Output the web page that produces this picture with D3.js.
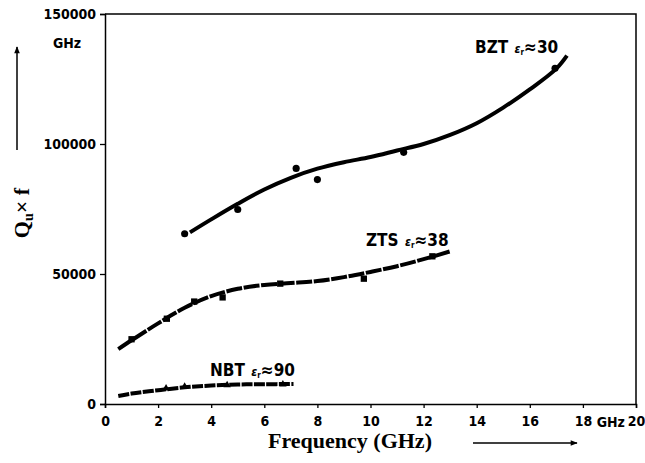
<!DOCTYPE html>
<html>
<head>
<meta charset="utf-8">
<script src="https://cdn.jsdelivr.net/npm/d3@7"></script>
<style>
  body { margin: 0; background: #fff; }
  svg { display: block; }
  .tick text, .lab { font-family: "DejaVu Sans Condensed", "DejaVu Sans", sans-serif; font-stretch: condensed; font-weight: bold; fill: #000; }
  .ttl { font-family: "Liberation Serif", "DejaVu Serif", serif; font-weight: bold; fill: #000; }
</style>
</head>
<body>
<svg id="chart" width="645" height="463"></svg>
<script>
// ticks
var xTicks = [0, 2, 4, 6, 8, 10, 12, 14, 16, 18, 20];
var yTicks = [0, 50000, 100000, 150000];

// BZT  er ~ 30 : fitted curve + measured points
var bztCurveF = [3.2, 4, 5, 6, 7, 8, 9, 10, 11, 12, 13, 14, 15, 16, 17, 17.4];
var bztCurveQ = [66000, 71000, 77000, 82500, 87000, 90500, 93000, 95000, 97500, 100000, 103500, 108000, 114000, 121000, 129000, 134000];
var bztPtsF = [3.0, 5.0, 7.2, 8.0, 11.25, 16.95];
var bztPtsQ = [65500, 74800, 90600, 86300, 96800, 129100];

// ZTS  er ~ 38
var ztsCurveF = [0.5, 1, 2, 3, 4, 5, 6, 7, 8, 9, 10, 11, 12, 13];
var ztsCurveQ = [21100, 24500, 31000, 37000, 41500, 44300, 45800, 46500, 47300, 48800, 50800, 53000, 55700, 58700];
var ztsPtsF = [1.0, 2.33, 3.36, 4.43, 6.6, 9.75, 12.33];
var ztsPtsQ = [24900, 32800, 39400, 41000, 46300, 48200, 56800];

// NBT  er ~ 90
var nbtCurveF = [0.5, 1, 2, 3, 4, 5, 6, 7.1];
var nbtCurveQ = [3100, 4000, 5300, 6400, 7100, 7500, 7600, 7700];
var nbtPtsF = [2.3, 3.0, 4.6, 6.7];
var nbtPtsQ = [6050, 6700, 7300, 7600];

var svg = d3.select("#chart");

var x = d3.scaleLinear().domain([0, 20]).range([105, 636]);
var y = d3.scaleLinear().domain([0, 150000]).range([404, 14]);

// frame (top and right)
svg.append("path")
  .attr("d", "M" + x(0) + "," + y(150000) + "H" + x(20) + "V" + y(0))
  .attr("fill", "none").attr("stroke", "#000").attr("stroke-width", 1.5);

var yAxis = svg.append("g")
  .attr("transform", "translate(" + x(0) + ",0)")
  .call(d3.axisLeft(y).tickValues(yTicks).tickSize(5).tickPadding(4).tickFormat(d3.format("d")));

var xAxis = svg.append("g")
  .attr("transform", "translate(0," + y(0) + ")")
  .call(d3.axisBottom(x).tickValues(xTicks).tickSize(4).tickPadding(8).tickFormat(d3.format("d")));

[yAxis, xAxis].forEach(function(g) {
  g.select(".domain").attr("stroke-width", 1.5);
  g.selectAll(".tick line").attr("stroke-width", 1.3);
  g.selectAll(".tick text").style("font-size", "14px");
});

// "GHz" next to the 18 tick and under 150000
svg.append("text").attr("class", "lab").attr("x", x(19.05)).attr("y", y(0) + 23)
  .attr("text-anchor", "middle").style("font-size", "14px").text("GHz");
svg.append("text").attr("class", "lab").attr("x", 67).attr("y", 48)
  .attr("text-anchor", "middle").style("font-size", "14px").text("GHz");

function zip(fs, qs) {
  return fs.map(function(f, i) { return [f, qs[i]]; });
}

var line = d3.line()
  .x(function(d) { return x(d[0]); })
  .y(function(d) { return y(d[1]); })
  .curve(d3.curveCatmullRom);

var series = [
  {curve: zip(bztCurveF, bztCurveQ), pts: zip(bztPtsF, bztPtsQ), dash: null, sym: d3.symbolCircle, size: 40},
  {curve: zip(ztsCurveF, ztsCurveQ), pts: zip(ztsPtsF, ztsPtsQ), dash: "16,1.6", sym: d3.symbolSquare, size: 40},
  {curve: zip(nbtCurveF, nbtCurveQ), pts: zip(nbtPtsF, nbtPtsQ), dash: "11,1.4", sym: d3.symbolTriangle, size: 24}
];

series.forEach(function(s) {
  svg.append("path")
    .datum(s.curve)
    .attr("d", line)
    .attr("fill", "none")
    .attr("stroke", "#000")
    .attr("stroke-width", 4)
    .attr("stroke-dasharray", s.dash);

  svg.selectAll(null)
    .data(s.pts)
    .join("path")
    .attr("transform", function(d) { return "translate(" + x(d[0]) + "," + y(d[1]) + ")"; })
    .attr("d", d3.symbol().type(s.sym).size(s.size))
    .attr("fill", "#000");
});

// curve labels
function curveLabel(px, py, name, val) {
  var t = svg.append("text").attr("class", "lab").attr("x", px).attr("y", py);
  t.append("tspan").style("font-size", "17px").text(name + " ");
  t.append("tspan").style("font-size", "12px").style("font-style", "italic").attr("dx", 1).text("\u03b5");
  t.append("tspan").style("font-size", "8px").attr("dy", 2).text("r");
  t.append("tspan").style("font-size", "17px").attr("dy", -2).text("\u2248");
  t.append("tspan").style("font-size", "17px").text(val);
}
curveLabel(475, 53, "BZT", "30");
curveLabel(366, 246, "ZTS", "38");
curveLabel(210, 376, "NBT", "90");

// axis titles
svg.append("text").attr("class", "ttl").attr("x", 350).attr("y", 448)
  .attr("text-anchor", "middle").style("font-size", "22px").text("Frequency (GHz)");

var yt = svg.append("text").attr("class", "ttl")
  .attr("transform", "translate(29,213) rotate(-90)")
  .attr("text-anchor", "middle").style("font-size", "22px");
yt.append("tspan").text("Q");
yt.append("tspan").style("font-size", "14px").attr("dy", 4).text("u");
yt.append("tspan").attr("dy", -4).text("\u00d7 f");

// arrows
svg.append("defs").append("marker")
  .attr("id", "ah").attr("viewBox", "0 0 10 10").attr("refX", 9).attr("refY", 5)
  .attr("markerWidth", 10).attr("markerHeight", 7).attr("markerUnits", "userSpaceOnUse")
  .attr("orient", "auto")
  .append("path").attr("d", "M0,1L10,5L0,9Z").attr("fill", "#000");

svg.append("line").attr("x1", 17).attr("y1", 150).attr("x2", 17).attr("y2", 47)
  .attr("stroke", "#000").attr("stroke-width", 1.5).attr("marker-end", "url(#ah)");
svg.append("line").attr("x1", 473).attr("y1", 443).attr("x2", 577).attr("y2", 443)
  .attr("stroke", "#000").attr("stroke-width", 1.5).attr("marker-end", "url(#ah)");
</script>
</body>
</html>
